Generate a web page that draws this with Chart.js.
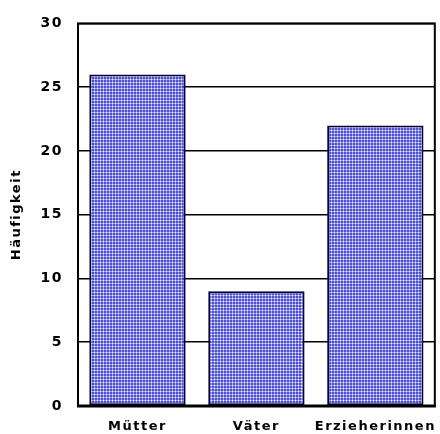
<!DOCTYPE html>
<html>
<head>
<meta charset="utf-8">
<script src="https://cdn.jsdelivr.net/npm/chart.js@4/dist/chart.umd.min.js"></script>
<style>
  html, body { margin: 0; padding: 0; background: #fff; }
  #wrap { width: 440px; height: 434px; }
</style>
</head>
<body>
<div id="wrap"><canvas id="chart" width="440" height="434"></canvas></div>
<script>
        const categories = ['Mütter', 'Väter', 'Erzieherinnen'];
        const counts = [26, 9, 22];
        const yTicks = [0, 5, 10, 15, 20, 25, 30];
        const yTitle = 'Häufigkeit';

        // Punktraster wie im Original
        function makePattern() {
            const c = document.createElement('canvas');
            c.width = 3;
            c.height = 3;
            const g = c.getContext('2d');
            g.fillStyle = '#5252c8';
            g.fillRect(0, 0, 3, 3);
            g.fillStyle = '#9c9cec';
            g.fillRect(1, 0, 1, 1);
            g.fillRect(0, 1, 1, 1);
            g.fillRect(2, 1, 1, 1);
            g.fillRect(1, 2, 1, 1);
            g.fillStyle = '#f4f4ff';
            g.fillRect(1, 1, 1, 1);
            return g.createPattern(c, 'repeat');
        }

        // Rahmen + breite Schrift
        const framePlugin = {
            id: 'frame',
            beforeDraw(chart) {
                chart.ctx.letterSpacing = '1.5px';
            },
            afterDatasetsDraw(chart) {
                const { ctx, chartArea: a } = chart;
                ctx.save();
                ctx.strokeStyle = '#000';
                ctx.lineWidth = 2;
                ctx.strokeRect(a.left, a.top, a.right - a.left, a.bottom - a.top);
                ctx.lineWidth = 3;
                ctx.beginPath();
                ctx.moveTo(a.left - 1, a.bottom);
                ctx.lineTo(a.right + 1, a.bottom);
                ctx.stroke();
                ctx.restore();
            }
        };

        const font = 'DejaVu Sans, Liberation Sans, Arial';

        const ctx = document.getElementById('chart').getContext('2d');
        const chart = new Chart(ctx, {
            type: 'bar',
            data: {
                labels: categories,
                datasets: [{
                    data: counts,
                    backgroundColor: makePattern(),
                    borderColor: '#00003a',
                    borderWidth: 2,
                    borderSkipped: false,
                    barPercentage: 0.81,
                    categoryPercentage: 1
                }]
            },
            options: {
                responsive: false,
                animation: false,
                layout: { padding: { top: 22, right: 5, left: 0, bottom: 0 } },
                plugins: {
                    legend: { display: false },
                    tooltip: { enabled: false }
                },
                scales: {
                    x: {
                        grid: { display: false, drawTicks: false },
                        border: { display: false },
                        ticks: {
                            color: '#000',
                            font: { family: font, size: 13, weight: 'bold' },
                            padding: 13,
                            maxRotation: 0,
                            autoSkip: false
                        },
                        afterFit(s) { s.height = 28; }
                    },
                    y: {
                        min: 0,
                        max: 30,
                        afterBuildTicks(s) { s.ticks = yTicks.map(v => ({ value: v })); },
                        grid: { color: '#000', lineWidth: 1.5, drawTicks: false },
                        border: { display: false },
                        ticks: {
                            color: '#000',
                            font: { family: font, size: 14, weight: 'bold' },
                            padding: 15
                        },
                        title: {
                            display: true,
                            text: yTitle,
                            color: '#000',
                            font: { family: font, size: 13, weight: 'bold' },
                            padding: { top: 9, bottom: 0 }
                        },
                        afterFit(s) { s.width = 78; }
                    }
                }
            },
            plugins: [framePlugin]
        });
</script>
</body>
</html>
